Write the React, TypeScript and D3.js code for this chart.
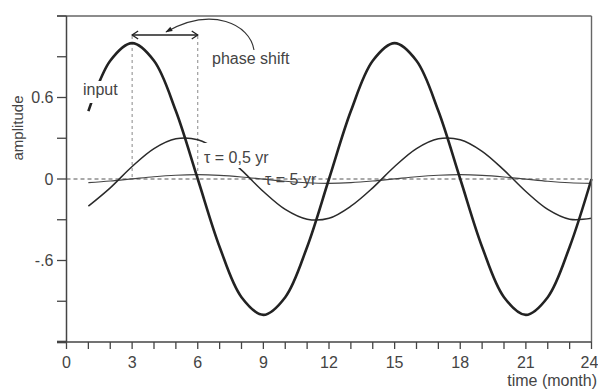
import React from 'react';
import * as d3 from 'd3';

// Monthly samples (t = 1 … 24 months)
const months = [1, 2, 3, 4, 5, 6, 7, 8, 9, 10, 11, 12, 13, 14, 15, 16, 17, 18, 19, 20, 21, 22, 23, 24];

// Forcing signal (thick curve)
const inputWave = [0.5, 0.87, 1.0, 0.87, 0.5, 0.0, -0.5, -0.87, -1.0, -0.87, -0.5, 0.0,
  0.5, 0.87, 1.0, 0.87, 0.5, 0.0, -0.5, -0.87, -1.0, -0.87, -0.5, 0.0];

// Response with tau = 0.5 yr
const responseHalfYear = [-0.2, -0.065, 0.092, 0.224, 0.296, 0.289, 0.204, 0.065, -0.092, -0.224, -0.296, -0.289,
  -0.2, -0.065, 0.092, 0.224, 0.296, 0.289, 0.204, 0.065, -0.092, -0.224, -0.296, -0.289];

// Response with tau = 5 yr
const responseFiveYear = [-0.027, -0.015, 0.001, 0.017, 0.028, 0.032, 0.027, 0.015, -0.001, -0.017, -0.028, -0.032,
  -0.027, -0.015, 0.001, 0.017, 0.028, 0.032, 0.027, 0.015, -0.001, -0.017, -0.028, -0.032];

const xTickValues = [0, 1, 2, 3, 4, 5, 6, 7, 8, 9, 10, 11, 12, 13, 14, 15, 16, 17, 18, 19, 20, 21, 22, 23, 24];
const xLabelValues = [0, 3, 6, 9, 12, 15, 18, 21, 24];
const yTickValues = [-1.2, -0.9, -0.6, -0.3, 0, 0.3, 0.6, 0.9, 1.2];
const yLabelValues = [0.6, 0, -0.6];
const yLabelTexts = ['0.6', '0', '-.6'];

const W = 598;
const H = 390;
const FONT = '"Liberation Sans", Arial, Helvetica, sans-serif';
const INK = '#222';
const AXIS = '#444';
const TEXT = '#444';

export default function App() {
  const x = d3.scaleLinear().domain([0, 24]).range([66.5, 591.5]);
  const y = d3.scaleLinear().domain([-1.2, 1.2]).range([342, 16]);

  const line = d3
    .line<number>()
    .x((_, i) => x(months[i]))
    .y((d) => y(d))
    .curve(d3.curveCatmullRom.alpha(0.5));

  const x0 = x(0);
  const x1 = x(24);
  const yTop = y(1.2);
  const yBot = y(-1.2);
  const tickLen = 9.5;

  // phase-shift bracket between the input peak and the response peak
  const pA = x(3);
  const pB = x(6);
  const pY = 35;

  return (
    <svg
      width={W}
      height={H}
      viewBox={`0 0 ${W} ${H}`}
      style={{ position: 'absolute', left: 0, top: 0, background: '#fff' }}
      fontFamily={FONT}
    >
      <defs>
        <marker id="curlHead" viewBox="0 0 10 10" refX="9" refY="5" markerWidth="9" markerHeight="7" orient="auto" markerUnits="userSpaceOnUse">
          <path d="M0,1.5 L10,5 L0,8.5 Z" fill={INK} />
        </marker>
      </defs>

      {/* zero reference */}
      <line x1={x0} x2={x1} y1={y(0)} y2={y(0)} stroke="#555" strokeWidth={1} strokeDasharray="4,3" />

      {/* phase markers */}
      {[pA, pB].map((px, i) => (
        <line key={i} x1={px} x2={px} y1={pY + 1} y2={y(0)} stroke="#888" strokeWidth={1} strokeDasharray="3,3" />
      ))}

      {/* curves */}
      <path d={line(responseFiveYear) ?? ''} fill="none" stroke="#444" strokeWidth={1.1} />
      <path d={line(responseHalfYear) ?? ''} fill="none" stroke="#2a2a2a" strokeWidth={1.5} />
      <path d={line(inputWave) ?? ''} fill="none" stroke={INK} strokeWidth={2.6} />

      {/* frame */}
      <line x1={x0 - tickLen} x2={x1} y1={yTop} y2={yTop} stroke="#666" strokeWidth={1.4} />
      <line x1={x1} x2={x1} y1={yTop} y2={yBot} stroke="#666" strokeWidth={1.4} />
      <line x1={x0} x2={x0} y1={yTop} y2={yBot} stroke={AXIS} strokeWidth={1.5} />
      <line x1={x0 - tickLen} x2={x1} y1={yBot} y2={yBot} stroke={AXIS} strokeWidth={1.6} />
      <line x1={x0 - tickLen} x2={x0} y1={yBot} y2={yBot} stroke={AXIS} strokeWidth={2.6} />

      {/* y ticks */}
      {yTickValues.map((v) => (
        <line key={v} x1={x0 - tickLen} x2={x0} y1={y(v)} y2={y(v)} stroke={AXIS} strokeWidth={1.3} />
      ))}
      {yLabelValues.map((v, i) => (
        <text key={v} x={x0 - 13} y={y(v)} dy="0.35em" textAnchor="end" fontSize={16} fill={TEXT}>
          {yLabelTexts[i]}
        </text>
      ))}

      {/* x ticks */}
      {xTickValues.map((v) => (
        <line key={v} x1={x(v)} x2={x(v)} y1={yBot} y2={yBot + 7} stroke={AXIS} strokeWidth={1.3} />
      ))}
      {xLabelValues.map((v) => (
        <text key={v} x={v === 24 ? x(v) - 2 : x(v)} y={368} textAnchor="middle" fontSize={16} fill={TEXT}>
          {v}
        </text>
      ))}

      {/* axis titles */}
      <text x={597} y={386} textAnchor="end" fontSize={16} fill={TEXT}>
        time (month)
      </text>
      <text transform="translate(23,128) rotate(-90)" textAnchor="middle" fontSize={15} fill={TEXT}>
        amplitude
      </text>

      {/* curve labels */}
      <rect x={80} y={81} width={41} height={22} fill="#fff" />
      <text x={83} y={95} fontSize={16} fill={TEXT}>
        input
      </text>

      <rect x={202} y={143} width={70} height={25} fill="#fff" />
      <text x={204} y={163} fontSize={16} fill={TEXT}>
        τ = 0,5 yr
      </text>

      <text x={265} y={185} fontSize={16} fill={TEXT}>
        τ = 5 yr
      </text>

      {/* phase shift annotation */}
      <line x1={pA} x2={pB} y1={pY} y2={pY} stroke={INK} strokeWidth={1.3} />
      <path d={`M${pA + 6},${pY - 4} L${pA},${pY} L${pA + 6},${pY + 4}`} fill="none" stroke={INK} strokeWidth={1.3} />
      <path d={`M${pB - 6},${pY - 4} L${pB},${pY} L${pB - 6},${pY + 4}`} fill="none" stroke={INK} strokeWidth={1.3} />
      <path d="M254,50 C250,24 212,6 166,32" fill="none" stroke="#333" strokeWidth={1.1} markerEnd="url(#curlHead)" />
      <text x={212} y={64} fontSize={16} fill={TEXT}>
        phase shift
      </text>
    </svg>
  );
}
